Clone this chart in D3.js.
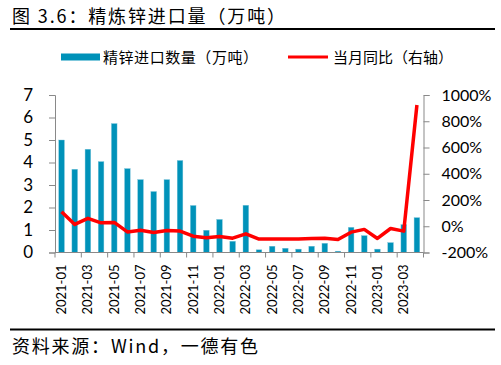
<!DOCTYPE html>
<html>
<head>
<meta charset="utf-8">
<script src="https://cdn.jsdelivr.net/npm/d3@7"></script>
<style>
  body { margin: 0; background: #fff; }
  svg { display: block; }
  .num { font-family: Lato, "Open Sans", sans-serif; fill: #000; }
  .cjk { font-family: "Noto Sans CJK SC", sans-serif; fill: #000; }
</style>
</head>
<body>
<div id="chart"></div>
<script>
// months on the category axis
const months = [
  '2021-01', '2021-02', '2021-03', '2021-04', '2021-05', '2021-06', '2021-07',
  '2021-08', '2021-09', '2021-10', '2021-11', '2021-12', '2022-01', '2022-02',
  '2022-03', '2022-04', '2022-05', '2022-06', '2022-07', '2022-08', '2022-09',
  '2022-10', '2022-11', '2022-12', '2023-01', '2023-02', '2023-03', '2023-04'
];
// 精锌进口数量 (万吨)
const imports = [
  5.00, 3.70, 4.59, 4.04, 5.73, 3.73, 3.24, 2.71, 3.24, 4.09, 2.09, 0.99, 1.47, 0.50,
  2.10, 0.12, 0.28, 0.19, 0.15, 0.28, 0.41, 0.06, 1.12, 0.75, 0.15, 0.44, 1.24, 1.55
];
// 当月同比 (%)
const yoy = [
  110, 14, 60, 26, 29, -43, -30, -47, -32, -37, -76, -88, -78, -91,
  -58, -98, -98, -98, -98, -93, -91, -101, -45, -24, -93, -17, -37, 924
];
const tickLabels = months.filter((m, i) => i % 2 === 0);
const leftTicks = [0, 1, 2, 3, 4, 5, 6, 7];
const rightTicks = [-200, 0, 200, 400, 600, 800, 1000];

const W = 501, H = 365;
const plot = { left: 55, right: 423.5, top: 95, bottom: 252.5 };
const blue = '#0092b9', red = '#ff0000', axisGrey = '#898989';

const svg = d3.select('#chart').append('svg')
  .attr('width', W)
  .attr('height', H);

// title + rule
svg.append('text')
  .attr('class', 'cjk')
  .attr('x', 12)
  .attr('y', 23)
  .attr('font-size', 18)
  .attr('textLength', 273)
  .attr('lengthAdjust', 'spacing')
  .text('图 3.6：精炼锌进口量（万吨）');
svg.append('line')
  .attr('x1', 10).attr('x2', 495)
  .attr('y1', 29).attr('y2', 29)
  .attr('stroke', '#000').attr('stroke-width', 2);

// scales
const x = d3.scaleBand()
  .domain(months)
  .range([plot.left, plot.right])
  .padding(0);
const y = d3.scaleLinear().domain([0, 7]).range([plot.bottom, plot.top]);
const y2 = d3.scaleLinear().domain([-200, 1000]).range([plot.bottom, plot.top]);
const barW = x.bandwidth() * 0.43;

// bars
svg.append('g')
  .selectAll('rect')
  .data(imports)
  .join('rect')
  .attr('x', (d, i) => x(months[i]) + (x.bandwidth() - barW) / 2)
  .attr('y', d => y(d))
  .attr('width', barW)
  .attr('height', d => y(0) - y(d))
  .attr('fill', blue)
  .attr('stroke', '#7fc6dc')
  .attr('stroke-width', 0.4);

// left axis
const gl = svg.append('g')
  .attr('transform', `translate(${plot.left},0)`)
  .call(d3.axisLeft(y).tickValues(leftTicks).tickSize(6).tickPadding(16).tickFormat(d3.format('d')));
gl.select('.domain').attr('stroke', axisGrey);
gl.selectAll('.tick line').attr('stroke', axisGrey);
gl.selectAll('.tick text').attr('class', 'num').attr('font-size', 17);

// right axis
const gr = svg.append('g')
  .attr('transform', `translate(${plot.right},0)`)
  .call(d3.axisRight(y2).tickValues(rightTicks).tickSize(6).tickPadding(12).tickFormat(d => d + '%'));
gr.select('.domain').attr('stroke', axisGrey);
gr.selectAll('.tick line').attr('stroke', axisGrey);
gr.selectAll('.tick text').attr('class', 'num').attr('font-size', 16);

// bottom axis: ticks on category boundaries every 2 months
const gb = svg.append('g');
gb.append('line')
  .attr('x1', plot.left).attr('x2', plot.right)
  .attr('y1', plot.bottom).attr('y2', plot.bottom)
  .attr('stroke', axisGrey);
const tickXs = tickLabels.map(m => x(m)).concat([plot.right]);
gb.selectAll('line.tk')
  .data(tickXs)
  .join('line')
  .attr('class', 'tk')
  .attr('x1', d => d).attr('x2', d => d)
  .attr('y1', plot.bottom).attr('y2', plot.bottom + 5)
  .attr('stroke', axisGrey);
gb.selectAll('text')
  .data(tickLabels)
  .join('text')
  .attr('class', 'num')
  .attr('font-size', 13)
  .attr('text-anchor', 'end')
  .attr('dy', '0.35em')
  .attr('transform', d => `translate(${x(d) + x.bandwidth() / 2},${plot.bottom + 12}) rotate(-90)`)
  .text(d => d);

// yoy line
const line = d3.line()
  .x((d, i) => x(months[i]) + x.bandwidth() / 2)
  .y(d => y2(d));
svg.append('path')
  .datum(yoy)
  .attr('d', line)
  .attr('fill', 'none')
  .attr('stroke', red)
  .attr('stroke-width', 3.5)
  .attr('stroke-linejoin', 'round');

// legend
const lg = svg.append('g');
lg.append('rect')
  .attr('x', 61).attr('y', 53.5)
  .attr('width', 39).attr('height', 7)
  .attr('fill', blue);
lg.append('text')
  .attr('class', 'cjk')
  .attr('x', 103).attr('y', 62.5)
  .attr('font-size', 15)
  .attr('textLength', 155)
  .attr('lengthAdjust', 'spacing')
  .text('精锌进口数量（万吨）');
lg.append('line')
  .attr('x1', 288).attr('x2', 328)
  .attr('y1', 57).attr('y2', 57)
  .attr('stroke', red).attr('stroke-width', 3);
lg.append('text')
  .attr('class', 'cjk')
  .attr('x', 333).attr('y', 62.5)
  .attr('font-size', 15)
  .attr('textLength', 120)
  .attr('lengthAdjust', 'spacing')
  .text('当月同比（右轴）');

// footer
svg.append('line')
  .attr('x1', 10).attr('x2', 495)
  .attr('y1', 329.5).attr('y2', 329.5)
  .attr('stroke', '#000').attr('stroke-width', 2);
svg.append('text')
  .attr('class', 'cjk')
  .attr('x', 12)
  .attr('y', 353)
  .attr('font-size', 18)
  .attr('textLength', 246)
  .attr('lengthAdjust', 'spacing')
  .text('资料来源：Wind，一德有色');
</script>
</body>
</html>
